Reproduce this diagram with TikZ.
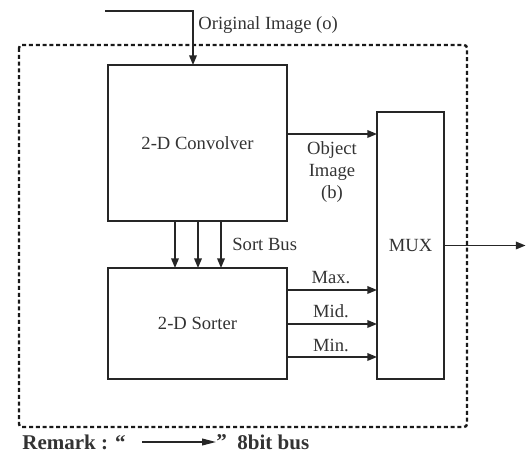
\documentclass[tikz,border=0pt]{standalone}
\usepackage{fontspec}
\setmainfont{Liberation Serif}
\usetikzlibrary{arrows.meta,calc}
\begin{document}
\begin{tikzpicture}[x=0.5pt,y=-0.5pt,
  box/.style={draw=black!85,line width=0.8pt,inner sep=0pt,outer sep=0pt,font=\fontsize{9.3}{11}\selectfont,text=black!80},
  lbl/.style={inner sep=0pt,font=\fontsize{9.3}{11.5}\selectfont,text=black!80},
  arr/.style={draw=black!85,line width=0.7pt,-{Triangle[length=4.8pt,width=3.8pt]}},
  frame/.style={draw=black!90,line width=1.2pt,dash pattern=on 2pt off 1.4pt,rounded corners=1.5pt},
  rem/.style={inner sep=0pt,font=\fontsize{10.5}{12}\selectfont\bfseries,text=black!80,anchor=west}]
\useasboundingbox (0,0) rectangle (526,460);
% outer dashed frame
\draw[frame] (19,45) rectangle (467,427);
% blocks
\node[box,minimum width=89.5pt,minimum height=78pt] (conv) at (197.5,143) {2-D Convolver};
\node[box,minimum width=89.5pt,minimum height=55.5pt] (sorter) at (197.5,323.5) {2-D Sorter};
\node[box,minimum width=33.5pt,minimum height=133.5pt] (mux) at (410.5,245.5) {MUX};
% input
\coordinate (instart) at (105,11);
\draw[arr] (instart) -| ([xshift=-2.25pt]conv.north);
\node[lbl,anchor=west] (origlbl) at (198,25) {Original Image (o)};
% object image
\draw[arr] ([yshift=-34.5pt]conv.north east) coordinate (o1) -- (o1 -| mux.west);
\node[lbl,align=center] (objlbl) at (332,172) {Object\\[-0.4pt]Image\\[-0.4pt](b)};
% sort bus
\draw[arr] ([xshift=33.5pt]conv.south west) -- ([xshift=33.5pt]sorter.north west);
\draw[arr] ([xshift=45pt]conv.south west) -- ([xshift=45pt]sorter.north west);
\draw[arr] ([xshift=56.5pt]conv.south west) -- ([xshift=56.5pt]sorter.north west);
\node[lbl,anchor=west] (sortlbl) at (232,244) {Sort Bus};
% sorter outputs
\draw[arr] ([yshift=-11pt]sorter.north east) coordinate (s1) -- (s1 -| mux.west);
\draw[arr] ([yshift=-28pt]sorter.north east) coordinate (s2) -- (s2 -| mux.west);
\draw[arr] ([yshift=-44.5pt]sorter.north east) coordinate (s3) -- (s3 -| mux.west);
\node[lbl] (maxlbl) at (331,278) {Max.};
\node[lbl] (midlbl) at (331,311) {Mid.};
\node[lbl] (minlbl) at (331,345) {Min.};
% output
\coordinate (outend) at (525.5,245.5);
\draw[arr] (mux.east) -- (outend);
% remark
\node[rem] (remark) at (22,442) {Remark : \textquotedblleft};
\coordinate (ra) at (142,442);
\coordinate (rb) at (216,442);
\draw[draw=black!85,line width=0.7pt,-{Triangle[length=7pt,width=3.4pt]}] (ra) -- (rb);
\node[rem] (rq) at (216,442) {\textquotedblright};
\node[rem] (bus) at (237,442) {8bit bus};
\end{tikzpicture}
\end{document}
